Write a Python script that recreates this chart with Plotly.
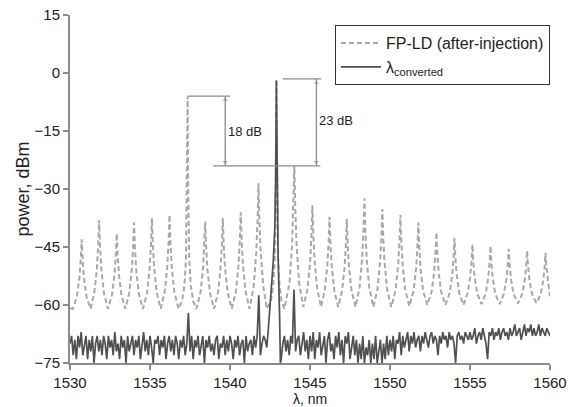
import numpy as np
import plotly.graph_objects as go

# ---------------- FP-LD (after-injection) spectrum ----------------
fp_wl = [
    1530.00, 1530.17,
    1530.43, 1530.59, 1530.67, 1530.73, 1530.79, 1530.87, 1531.03, 1531.28,
    1531.52, 1531.68, 1531.76, 1531.82, 1531.88, 1531.96, 1532.12, 1532.37,
    1532.62, 1532.78, 1532.86, 1532.92, 1532.98, 1533.06, 1533.22, 1533.46,
    1533.70, 1533.86, 1533.94, 1534.00, 1534.06, 1534.14, 1534.30, 1534.56,
    1534.82, 1534.98, 1535.06, 1535.12, 1535.18, 1535.26, 1535.42, 1535.67,
    1535.92, 1536.08, 1536.16, 1536.22, 1536.28, 1536.36, 1536.52, 1536.78,
    1537.00, 1537.15, 1537.25, 1537.31, 1537.35, 1537.39, 1537.45, 1537.55, 1537.70, 1537.90,
    1538.15, 1538.31, 1538.39, 1538.45, 1538.51, 1538.59, 1538.75, 1539.00,
    1539.25, 1539.41, 1539.49, 1539.55, 1539.61, 1539.69, 1539.85, 1540.11,
    1540.37, 1540.53, 1540.61, 1540.67, 1540.73, 1540.81, 1540.97, 1541.22,
    1541.48, 1541.64, 1541.72, 1541.78, 1541.84, 1541.92, 1542.08, 1542.30,
    1542.55, 1542.70, 1542.80, 1542.86, 1542.90, 1542.94, 1543.00, 1543.10, 1543.22, 1543.40,
    1543.72, 1543.88, 1543.96, 1544.02, 1544.08, 1544.16, 1544.32, 1544.58,
    1544.85, 1545.01, 1545.09, 1545.15, 1545.21, 1545.29, 1545.45, 1545.69,
    1545.92, 1546.08, 1546.16, 1546.22, 1546.28, 1546.36, 1546.52, 1546.76,
    1547.00, 1547.16, 1547.24, 1547.30, 1547.36, 1547.44, 1547.60, 1547.85,
    1548.10, 1548.26, 1548.34, 1548.40, 1548.46, 1548.54, 1548.70, 1548.96,
    1549.22, 1549.38, 1549.46, 1549.52, 1549.58, 1549.66, 1549.82, 1550.08,
    1550.35, 1550.51, 1550.59, 1550.65, 1550.71, 1550.79, 1550.95, 1551.21,
    1551.47, 1551.63, 1551.71, 1551.77, 1551.83, 1551.91, 1552.07, 1552.33,
    1552.60, 1552.76, 1552.84, 1552.90, 1552.96, 1553.04, 1553.20, 1553.46,
    1553.73, 1553.89, 1553.97, 1554.03, 1554.09, 1554.17, 1554.33, 1554.59,
    1554.85, 1555.01, 1555.09, 1555.15, 1555.21, 1555.29, 1555.45, 1555.72,
    1555.98, 1556.14, 1556.22, 1556.28, 1556.34, 1556.42, 1556.58, 1556.85,
    1557.12, 1557.28, 1557.36, 1557.42, 1557.48, 1557.56, 1557.72, 1558.00,
    1558.27, 1558.43, 1558.51, 1558.57, 1558.63, 1558.71, 1558.87, 1559.15,
    1559.42, 1559.58, 1559.66, 1559.72, 1559.78, 1559.86, 1560.00,
]
fp_dbm = [
    -60.8, -61.0,
    -57.8, -52.9, -48.4, -43.0, -48.4, -52.9, -57.8, -61.0,
    -56.9, -50.7, -44.9, -38.0, -44.9, -50.7, -56.9, -61.0,
    -57.5, -52.2, -47.4, -41.5, -47.4, -52.2, -57.5, -61.0,
    -57.0, -51.0, -45.4, -38.7, -45.4, -51.0, -57.0, -61.0,
    -56.8, -50.4, -44.6, -37.5, -44.6, -50.4, -56.8, -61.0,
    -56.6, -50.1, -44.0, -36.7, -44.0, -50.1, -56.6, -61.0,
    -59.0, -55.0, -48.0, -30.0, -6.0, -30.0, -48.0, -55.0, -59.0, -61.0,
    -56.9, -50.8, -45.2, -38.4, -45.2, -50.8, -56.9, -61.0,
    -56.8, -50.4, -44.6, -37.5, -44.6, -50.4, -56.8, -61.0,
    -56.5, -49.8, -43.5, -36.0, -43.5, -49.8, -56.5, -61.0,
    -55.2, -46.4, -38.3, -28.5, -38.3, -46.4, -55.2, -61.0,
    -59.0, -55.0, -48.0, -30.0, -1.5, -30.0, -48.0, -55.0, -59.0, -61.0,
    -54.3, -44.4, -35.1, -24.0, -35.1, -44.4, -54.3, -60.5,
    -55.8, -48.7, -42.1, -34.2, -42.1, -48.7, -55.8, -60.5,
    -56.3, -50.0, -44.2, -37.2, -44.2, -50.0, -56.3, -60.5,
    -56.4, -50.3, -44.6, -37.8, -44.6, -50.3, -56.4, -60.5,
    -55.4, -47.9, -40.8, -32.4, -40.8, -47.9, -55.4, -60.5,
    -55.9, -49.1, -42.8, -35.2, -42.8, -49.1, -55.9, -60.5,
    -56.1, -49.7, -43.8, -36.7, -43.8, -49.7, -56.1, -60.3,
    -56.4, -50.6, -45.2, -38.7, -45.2, -50.6, -56.4, -60.0,
    -56.6, -51.5, -46.8, -41.2, -46.8, -51.5, -56.6, -60.0,
    -56.9, -52.2, -47.9, -42.7, -47.9, -52.2, -56.9, -60.0,
    -57.0, -52.8, -49.0, -44.3, -49.0, -52.8, -57.0, -59.8,
    -57.1, -53.0, -49.2, -44.7, -49.2, -53.0, -57.1, -59.8,
    -57.1, -53.3, -49.7, -45.5, -49.7, -53.3, -57.1, -59.6,
    -57.1, -53.4, -50.0, -46.0, -50.0, -53.4, -57.1, -59.5,
    -57.2, -53.6, -50.4, -46.5, -50.4, -53.6, -57.8,
]

# ---------------- converted signal spectrum ----------------
conv_left_start = 1530.0     # sampled every 0.1 nm
conv_left_dbm = [
    -70, -68, -73, -69, -74, -68, -71, -67, -73, -70,
    -68, -74, -69, -72, -68, -75, -70, -68, -72, -69,
    -73, -68, -70, -74, -68, -71, -69, -73, -67, -72,
    -70, -74, -68, -71, -69, -75, -68, -72, -70, -68,
    -73, -69, -71, -68, -74, -70, -67, -72, -69, -73,
    -68, -71, -75, -69, -70, -68, -73, -69, -71, -68,
    -74, -70, -68, -72, -69, -73, -68, -70, -74, -69,
    -71, -68, -73, -70, -62, -72, -68, -74, -69, -71,
    -68, -73, -70, -68, -75, -69, -71, -68, -72, -70,
    -73, -69, -68, -74, -70, -71, -68, -73, -69, -72,
    -68, -70, -74, -69, -71, -68, -73, -70, -69, -75,
    -68, -72, -70, -69, -73, -68, -71, -68, -57.5, -73,
    -70, -68, -69, -71,
]
conv_peak_wl = [1542.4, 1542.5, 1542.6, 1542.7, 1542.8, 1542.85, 1542.9,
                1542.95, 1543.0, 1543.1, 1543.15]
conv_peak_dbm = [-66, -60, -55, -49, -40, -28, -2, -30, -46, -63, -75]
conv_right_start = 1543.2    # sampled every 0.1 nm
conv_right_dbm = [
    -74, -70, -68, -72, -69, -73, -68, -70, -56, -72, -69, -68, -73, -70, -67, -72, -69, -74,
    -68, -72, -67, -74, -69, -71, -67, -73, -70, -68,
    -75, -69, -67, -72, -70, -74, -68, -71, -67, -73,
    -69, -75, -68, -70, -67, -74, -71, -68, -73, -69,
    -75, -70, -74, -68, -75, -71, -73, -69, -75, -70,
    -74, -68, -75, -72, -69, -75, -70, -74, -68, -73,
    -69, -72, -68, -74, -69, -70, -67, -73, -68, -71,
    -69, -67, -72, -68, -70, -67, -71, -69, -68, -72,
    -68, -70, -67, -69, -71, -68, -67, -70, -68, -69,
    -73, -68, -70, -67, -69, -68, -71, -67, -69, -68,
    -70, -75, -68, -67, -69, -68, -70, -67, -68, -69,
    -67, -69, -68, -66, -70, -68, -67, -69, -66, -68,
    -70, -74, -67, -68, -66, -69, -67, -68, -66, -69,
    -67, -66, -68, -67, -69, -66, -68, -67, -65, -68,
    -67, -66, -69, -67, -65, -68, -66, -67, -65, -68,
    -66, -68, -67, -65, -68, -66, -67, -68, -66, -67, -68,
]

x_ticks = [1530, 1535, 1540, 1545, 1550, 1555, 1560]
y_ticks = [-75, -60, -45, -30, -15, 0, 15]

# annotation values (dB levels)
inj_peak = -6.0
conv_top = -1.5
side_level = -24.0

conv_wl = (list(np.round(conv_left_start + 0.1 * np.arange(len(conv_left_dbm)), 2))
           + conv_peak_wl
           + list(np.round(conv_right_start + 0.1 * np.arange(len(conv_right_dbm)), 2)))
conv_dbm = conv_left_dbm + conv_peak_dbm + conv_right_dbm

FONT = "Liberation Sans, Arial, sans-serif"
AX = "#8c8c8c"
ann_col = "#8c8c8c"

fig = go.Figure()
fig.add_trace(go.Scatter(
    x=fp_wl, y=fp_dbm, mode="lines", name="FP-LD (after-injection)",
    line=dict(color="#a8a8a8", width=2, dash="5px,3px"),
))
fig.add_trace(go.Scatter(
    x=conv_wl, y=conv_dbm, mode="lines", name="λ<sub>converted</sub>",
    line=dict(color="#505050", width=1.7),
))

# double arrows: vertical line shapes + arrow-head markers
arrow_x = [1539.7, 1545.4]
arrow_top = [inj_peak, conv_top]
for xa, yt in zip(arrow_x, arrow_top):
    fig.add_trace(go.Scatter(
        x=[xa, xa], y=[yt - 1.0, side_level + 1.0], mode="markers",
        marker=dict(symbol=["triangle-up", "triangle-down"], size=[6, 6], color=ann_col),
        showlegend=False, hoverinfo="skip",
    ))

shapes = [
    dict(type="line", x0=1537.35, x1=1540.0, y0=inj_peak, y1=inj_peak),
    dict(type="line", x0=1538.95, x1=1545.65, y0=side_level, y1=side_level),
    dict(type="line", x0=1543.3, x1=1545.7, y0=conv_top, y1=conv_top),
    dict(type="line", x0=arrow_x[0], x1=arrow_x[0], y0=inj_peak, y1=side_level),
    dict(type="line", x0=arrow_x[1], x1=arrow_x[1], y0=conv_top, y1=side_level),
]
for s in shapes:
    s.update(xref="x", yref="y", line=dict(color=ann_col, width=1.3))
fig.update_layout(shapes=shapes)

fig.add_annotation(x=1540.95, y=-15, text="18 dB", showarrow=False,
                   font=dict(family=FONT, size=13, color="#222"))
fig.add_annotation(x=1546.65, y=-12.3, text="23 dB", showarrow=False,
                   font=dict(family=FONT, size=13, color="#222"))

fig.update_layout(
    width=575, height=407,
    margin=dict(l=70, r=25, t=15, b=44),
    paper_bgcolor="white", plot_bgcolor="white",
    font=dict(family=FONT, size=15, color="#222"),
    showlegend=True,
    legend=dict(x=0.552, y=0.971, xanchor="left", yanchor="top",
                bgcolor="white", bordercolor="#333", borderwidth=1,
                itemwidth=40, tracegroupgap=0,
                font=dict(family=FONT, size=16, color="#222")),
    xaxis=dict(range=[1530, 1560], tickvals=x_ticks, showgrid=False, zeroline=False,
               showline=True, linecolor=AX, linewidth=2, ticks="outside", ticklen=5,
               tickwidth=2, tickcolor=AX, automargin=False,
               title=dict(text="λ, nm", standoff=7, font=dict(size=14))),
    yaxis=dict(range=[-75, 15], tickvals=y_ticks, showgrid=False, zeroline=False,
               showline=True, linecolor=AX, linewidth=2, ticks="outside", ticklen=5,
               tickwidth=2, tickcolor=AX, automargin=False,
               title=dict(text="power, dBm", standoff=0)),
)

fig.write_html("out.html", post_script="document.body.style.margin='0px';",
               config={"displayModeBar": False})
